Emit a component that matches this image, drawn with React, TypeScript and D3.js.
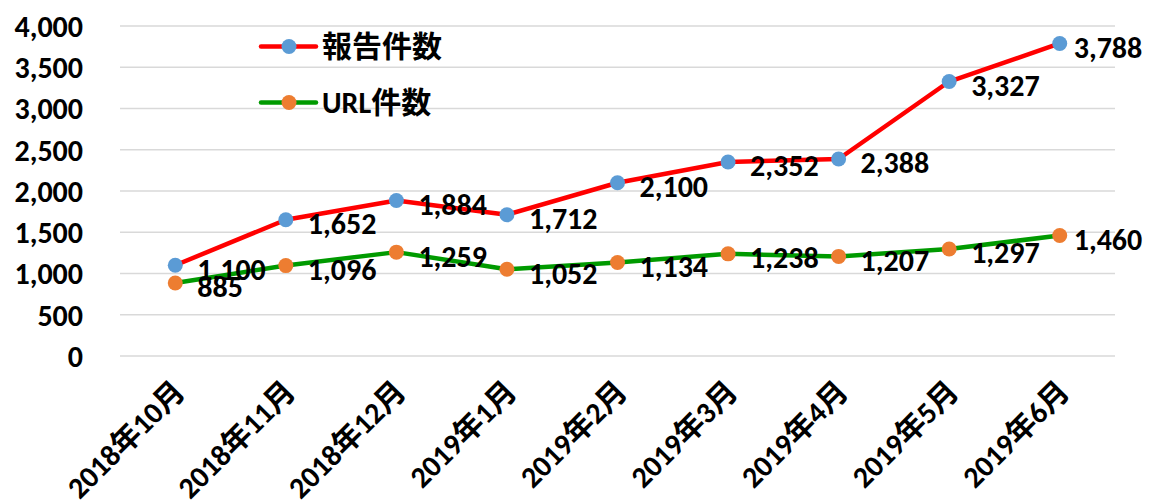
import { useEffect, useRef } from 'react';
import * as d3 from 'd3';

// Monthly counts
const months = [
  '2018年10月', '2018年11月', '2018年12月', '2019年1月', '2019年2月',
  '2019年3月', '2019年4月', '2019年5月', '2019年6月',
];
const reportCounts = [1100, 1652, 1884, 1712, 2100, 2352, 2388, 3327, 3788];
const urlCounts = [885, 1096, 1259, 1052, 1134, 1238, 1207, 1297, 1460];
const yTicks = [0, 500, 1000, 1500, 2000, 2500, 3000, 3500, 4000];

const seriesList = [
  { name: '報告件数', values: reportCounts, line: '#ff0000', marker: '#5b9bd5' },
  { name: 'URL件数', values: urlCounts, line: '#009a00', marker: '#ed7d31' },
];

const W = 1155;
const H = 503;
const FONT = "Carlito, 'Liberation Sans', 'Noto Sans CJK JP', sans-serif";
const FS = '30px';

export default function App() {
  const svgRef = useRef<SVGSVGElement>(null);

  useEffect(() => {
    if (!svgRef.current) return;
    const svg = d3.select(svgRef.current);
    svg.selectAll('*').remove();

    const margin = { top: 26, right: 40, bottom: 147, left: 120 };

    const x = d3.scalePoint<string>()
      .domain(months)
      .range([margin.left, W - margin.right])
      .padding(0.5);

    const y = d3.scaleLinear()
      .domain([0, 4000])
      .range([H - margin.bottom, margin.top]);

    // grid lines
    svg.append('g')
      .selectAll('line')
      .data(yTicks)
      .enter()
      .append('line')
      .attr('x1', margin.left)
      .attr('x2', W - margin.right)
      .attr('y1', d => y(d))
      .attr('y2', d => y(d))
      .attr('stroke', '#d9d9d9')
      .attr('stroke-width', 1.3);

    // y-axis labels
    svg.append('g')
      .selectAll('text')
      .data(yTicks)
      .enter()
      .append('text')
      .attr('x', 83)
      .attr('y', d => y(d))
      .attr('dy', '0.36em')
      .attr('text-anchor', 'end')
      .style('font-family', FONT)
      .style('font-weight', 'bold')
      .style('font-size', FS)
      .text(d => d3.format(',')(d));

    // x-axis labels, rotated
    svg.append('g')
      .selectAll('text')
      .data(months)
      .enter()
      .append('text')
      .attr('transform', d => `translate(${(x(d) || 0) + 4},${y(0) + 30}) rotate(-45)`)
      .attr('text-anchor', 'end')
      .attr('dy', '0.35em')
      .style('font-family', FONT)
      .style('font-weight', 'bold')
      .style('font-size', FS)
      .text(d => d);

    const line = d3.line<number>()
      .x((_, i) => x(months[i]) || 0)
      .y(d => y(d));

    seriesList.forEach(s => {
      svg.append('path')
        .datum(s.values)
        .attr('fill', 'none')
        .attr('stroke', s.line)
        .attr('stroke-width', 4.5)
        .attr('stroke-linejoin', 'round')
        .attr('d', line);

      svg.append('g')
        .selectAll('circle')
        .data(s.values)
        .enter()
        .append('circle')
        .attr('cx', (_, i) => x(months[i]) || 0)
        .attr('cy', d => y(d))
        .attr('r', 7.5)
        .attr('fill', s.marker);
    });

    // data labels (drawn last so they sit on top)
    seriesList.forEach(s => {
      svg.append('g')
        .selectAll('text')
        .data(s.values)
        .enter()
        .append('text')
        // last label is pushed left to stay inside the chart
        .attr('x', (_, i) => (x(months[i]) || 0) + (i === months.length - 1 ? 14 : 22))
        .attr('y', d => y(d) + 4)
        .attr('dy', '0.35em')
        .style('font-family', FONT)
        .style('font-weight', 'bold')
        .style('font-size', FS)
        .text(d => d3.format(',')(d));
    });

    // legend
    const legend = svg.append('g');
    seriesList.forEach((s, i) => {
      const ly = 46.5 + i * 56;
      legend.append('line')
        .attr('x1', 261).attr('x2', 316)
        .attr('y1', ly).attr('y2', ly)
        .attr('stroke', s.line)
        .attr('stroke-width', 4.5)
        .attr('stroke-linecap', 'round');
      legend.append('circle')
        .attr('cx', 289).attr('cy', ly)
        .attr('r', 7.5)
        .attr('fill', s.marker);
      legend.append('text')
        .attr('x', 322)
        .attr('y', ly)
        .attr('dy', '0.36em')
        .style('font-family', FONT)
        .style('font-weight', 'bold')
        .style('font-size', FS)
        .text(s.name);
    });
  }, []);

  return (
    <svg
      ref={svgRef}
      width={W}
      height={H}
      style={{ position: 'absolute', left: 0, top: 0, background: '#fff' }}
    />
  );
}
